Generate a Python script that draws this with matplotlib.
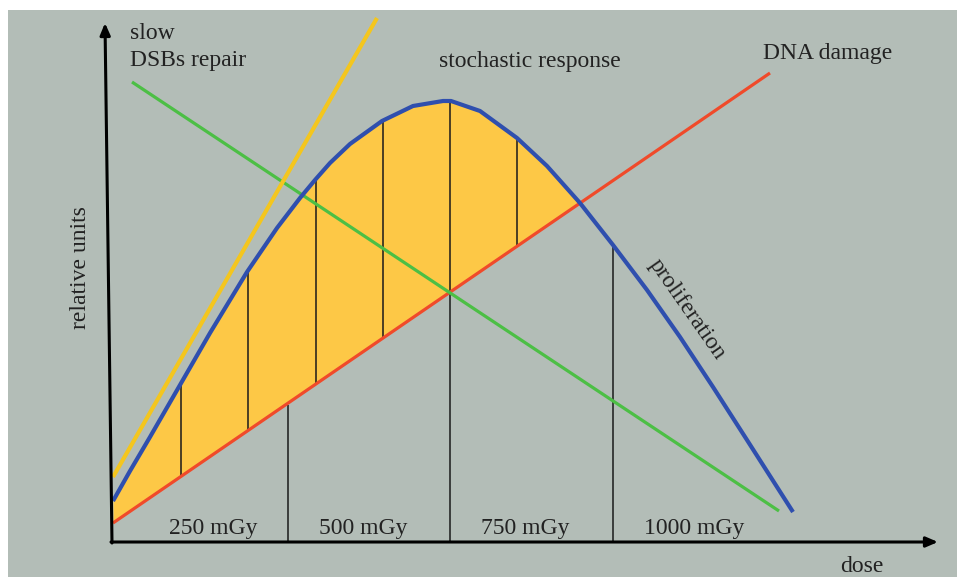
import numpy as np
import matplotlib.pyplot as plt
from matplotlib.patches import Rectangle

# Schematic coordinates (image pixels, y grows downward)
# proliferation (blue bell curve)
blue_x = [113, 130, 150, 180, 210, 247, 277, 300, 315, 330, 350, 382, 413,
          443, 451, 480, 517, 547, 580, 613, 647, 680, 713, 747, 793]
blue_y = [501, 471, 437, 385, 333, 272, 228, 198, 180, 163, 144, 121, 106,
          101, 101, 111, 138, 166, 203, 245, 290, 337, 387, 440, 512]

# straight lines: DNA damage, slow DSBs repair, fast repair (yellow)
red_x, red_y = [113, 770], [523, 73]
green_x, green_y = [132, 779], [82, 511]
yellow_x, yellow_y = [113, 377], [477, 18]

# thin vertical separators (bottom, top)
vline_x = [181, 248, 288, 316, 383, 450, 517, 613]
vline_bottom = [477, 431, 542, 384, 338, 542, 246, 542]
vline_top = [385, 272, 405, 179, 120, 101, 138, 245]

dose_labels = ['250 mGy', '500 mGy', '750 mGy', '1000 mGy']
dose_label_x = [213, 363, 525, 694]

BG = '#b3bdb7'
SERIF = ['Liberation Serif', 'DejaVu Serif']

fig = plt.figure(figsize=(9.57, 5.77), dpi=100)
ax = fig.add_axes([0, 0, 1, 1])
ax.set_xlim(0, 957)
ax.set_ylim(577, 0)
ax.axis('off')

# gray panel with a thin white margin on the left/top
ax.add_patch(Rectangle((8, 10), 949, 567, facecolor=BG, edgecolor='none', zorder=0))

bx = np.array(blue_x, dtype=float)
by = np.array(blue_y, dtype=float)
red_at_blue = np.interp(bx, red_x, red_y)
ax.fill_between(bx, by, red_at_blue, where=by <= red_at_blue, interpolate=True,
                color='#fdc846', linewidth=0, zorder=1)

ax.vlines(vline_x, vline_bottom, vline_top, color='#1a1a1a', linewidth=1.1, zorder=2)

ax.plot(red_x, red_y, color='#f04a2a', linewidth=2.3, solid_capstyle='butt', zorder=3)
ax.plot(green_x, green_y, color='#4cbf45', linewidth=2.3, solid_capstyle='butt', zorder=3)
ax.plot(yellow_x, yellow_y, color='#f4c61e', linewidth=3.0, solid_capstyle='butt', zorder=4)
ax.plot(bx, by, color='#2f4fae', linewidth=3.0, solid_capstyle='butt',
        solid_joinstyle='round', zorder=5)

# axes with arrow heads
arrow = dict(arrowstyle='-|>,head_length=0.7,head_width=0.3', color='black',
             linewidth=2.2, shrinkA=0, shrinkB=0)
ax.annotate('', xy=(938, 542), xytext=(111, 542), arrowprops=arrow, zorder=6)
ax.annotate('', xy=(105, 23), xytext=(112, 543), arrowprops=arrow, zorder=6)

txt = dict(fontsize=17, family=SERIF, color='#222222')
ax.text(130, 39, 'slow', va='baseline', ha='left', **txt)
ax.text(130, 66, 'DSBs repair', va='baseline', ha='left', **txt)
ax.text(530, 67, 'stochastic response', va='baseline', ha='center', **txt)
ax.text(763, 59, 'DNA damage', va='baseline', ha='left', **txt)
for lab, lx in zip(dose_labels, dose_label_x):
    ax.text(lx, 534, lab, va='baseline', ha='center', **txt)
ax.text(862, 572, 'dose', va='baseline', ha='center', **txt)
ax.text(80, 268, 'relative units', rotation=90, va='center', ha='center', **txt)
ax.text(687, 309, 'proliferation', rotation=-55, rotation_mode='anchor',
        va='center', ha='center', **txt)

fig.savefig('out.png', dpi=100)
